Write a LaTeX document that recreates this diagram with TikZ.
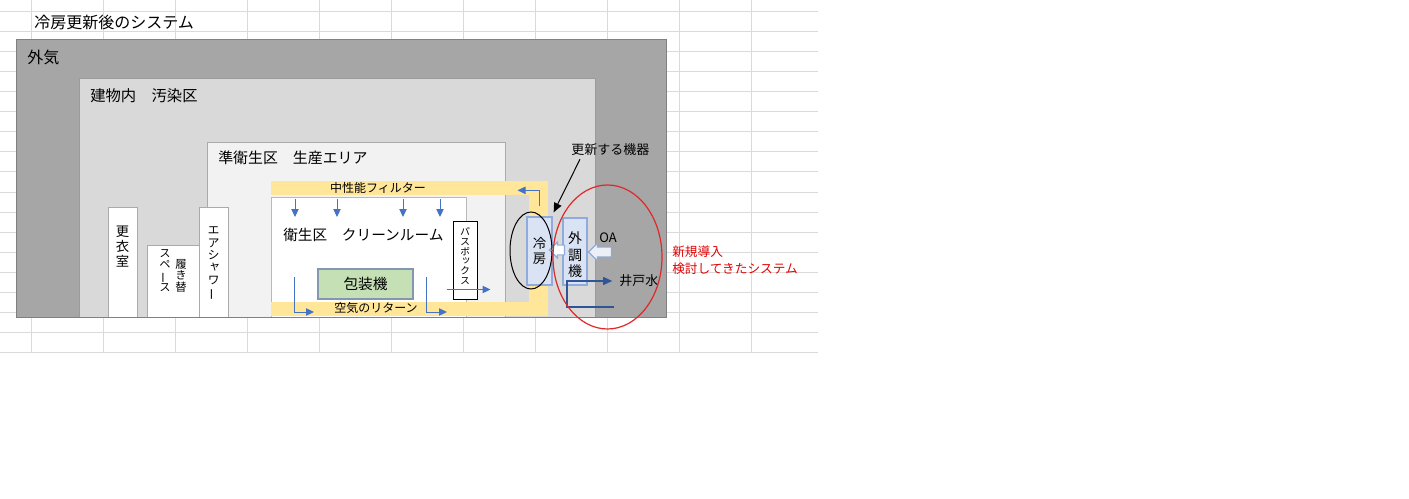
\documentclass[tikz,border=0pt]{standalone}
\usepackage{fontspec}
\setmainfont{Noto Sans CJK JP}
\newfontfamily\tatefont[RawFeature=+vert]{Noto Sans CJK JP}
\usetikzlibrary{arrows.meta,shapes.arrows,calc}

\definecolor{gridgray}{RGB}{218,218,218}
\definecolor{outergray}{RGB}{166,166,166}
\definecolor{outerline}{RGB}{128,128,128}
\definecolor{bldgray}{RGB}{217,217,217}
\definecolor{bldline}{RGB}{155,155,155}
\definecolor{semigray}{RGB}{242,242,242}
\definecolor{semiline}{RGB}{170,170,170}
\definecolor{roomline}{RGB}{185,185,185}
\definecolor{ductyellow}{RGB}{255,230,153}
\definecolor{flowblue}{RGB}{68,114,196}
\definecolor{pipeblue}{RGB}{47,85,151}
\definecolor{unitfill}{RGB}{218,227,243}
\definecolor{unitline}{RGB}{143,170,220}
\definecolor{machgreen}{RGB}{197,224,180}
\definecolor{machline}{RGB}{132,151,176}
\definecolor{notered}{RGB}{228,0,0}
\definecolor{ringred}{RGB}{225,40,40}

% long vowel mark standing upright in vertical text
\newcommand{\tatebou}{\rotatebox[origin=c]{90}{\rmfamily ー}}

\tikzset{
  zone/.style={line width=0.75pt},
  lbl/.style={anchor=west, inner sep=0pt},
  sidebox/.style={draw=semiline, fill=white, line width=0.75pt, inner sep=0pt},
  unitbox/.style={draw=unitline, fill=unitfill, line width=1pt, inner sep=0pt},
  tate/.style={align=center, inner sep=0pt},
  flow/.style={draw=flowblue, line width=0.75pt, -{Triangle[length=6pt,width=5.5pt]}},
  pipe/.style={draw=pipeblue, line width=1.1pt, -{Triangle[length=7pt,width=6pt]}},
  blockarrow/.style={single arrow, draw=unitline, line width=0.9pt, anchor=tip,
    shape border rotate=180, inner sep=3.2pt},
}

\begin{document}
\begin{tikzpicture}[x=0.75pt,y=0.75pt,yscale=-1,xscale=1]
    \useasboundingbox (0,0) rectangle (1409,499);
    \fill[white] (0,0) rectangle (1409,499);
    % sheet grid
    \foreach \gy in {12,32,...,352} \draw[gridgray, line width=0.75pt] (0,\gy) -- (818,\gy);
    \foreach \gx in {31,103,...,751} \draw[gridgray, line width=0.75pt] (\gx,0) -- (\gx,352);
    \node[lbl, font=\fontsize{12}{14}\selectfont] (title) at (34,22) {冷房更新後のシステム};

    % zones
    \draw[zone, draw=outerline, fill=outergray] (16,40) rectangle (666,317);
    \draw[zone, draw=bldline, fill=bldgray] (79,79) rectangle (595,317);
    \draw[zone, draw=semiline, fill=semigray] (207,143) rectangle (505,317);
    \draw[zone, draw=roomline, fill=white] (271,197) rectangle (466,317);
    \node[lbl, font=\fontsize{12}{14}\selectfont] (gaiki) at (27,57) {外気};
    \node[lbl, font=\fontsize{11.5}{14}\selectfont] (tatemono) at (90,96) {建物内　汚染区};
    \node[lbl, font=\fontsize{11.2}{14}\selectfont] (junei) at (218,158) {準衛生区　生産エリア};
    \node[lbl, font=\fontsize{11}{14}\selectfont] (eisei) at (283,235) {衛生区　クリーンルーム};

    % duct
    \fill[ductyellow] (271,181) rectangle (548,195);
    \fill[ductyellow] (529,181) rectangle (548,316);
    \fill[ductyellow] (271,302) rectangle (548,316);
    \node[font=\fontsize{9}{11}\selectfont, inner sep=0pt] (filter) at (378,188) {中性能フィルター};
    \node[font=\fontsize{9}{11}\selectfont, inner sep=0pt] (return) at (376,308) {空気のリターン};

    % rooms on the left
    \node[sidebox, minimum width=21.75pt, minimum height=82.5pt] (koui) at (122.5,262) {};
    \node[sidebox, minimum width=40.5pt, minimum height=54pt] (hakikae) at (174,281) {};
    \node[sidebox, minimum width=21.75pt, minimum height=82.5pt] (shower) at (213.5,262) {};
    \node[tate, font=\tatefont\fontsize{10}{11.25}\selectfont] (koui text) at (122.5,246.5) {更\\衣\\室};
    \node[tate, font=\tatefont\fontsize{8.5}{8.6}\selectfont] (hakikae text) at (181,275.5) {履\\き\\替};
    \node[tate, font=\tatefont\fontsize{8.5}{8.5}\selectfont] (space text) at (165,270.5) {ス\\ペ\\\tatebou\\ス};
    \node[tate, font=\tatefont\fontsize{9}{9.3}\selectfont] (shower text) at (213.5,263.5) {エ\\ア\\シ\\ャ\\ワ\\\tatebou};

    % clean room
    \node[draw=machline, fill=machgreen, line width=0.9pt, minimum width=71.25pt, minimum height=22.5pt,
      font=\fontsize{11}{13}\selectfont] (machine) at (365.5,284) {包装機};
    \node[draw=black, fill=white, line width=0.75pt, minimum width=18pt, minimum height=58.5pt] (passbox) at (465,260) {};
    \node[tate, font=\tatefont\fontsize{7.5}{7.3}\selectfont] (passbox text) at (465,256) {パ\\ス\\ボ\\ッ\\ク\\ス};
    \foreach \fx in {295,337,403,440} \draw[flow] (\fx,199) -- (\fx,217);
    \draw[flow] (294,277) |- (314,312);
    \draw[flow] (426,277) |- (447,312);
    \draw[flow] ($(passbox.south west)+(-6,-10)$) -- ($(passbox.south east)+(13,-10)$);

    % units
    \node[unitbox, minimum width=18.75pt, minimum height=51pt] (reibo) at (539.5,251) {};
    \node[tate, font=\tatefont\fontsize{10}{11.25}\selectfont] (reibo text) at (reibo) {冷\\房};
    \node[unitbox, minimum width=18pt, minimum height=50.25pt] (gaichou) at (575,251.5) {};
    \node[tate, font=\tatefont\fontsize{10.5}{12.4}\selectfont] (gaichou text) at (575,255) {外\\調\\機};
    \draw[flow] ($(reibo.north)+(0,-10)$) |- ++(-22,-16);
    \node[blockarrow, fill=white, minimum height=11.25pt, minimum width=10.5pt,
      single arrow head extend=2.3pt] (to reibo) at ($(reibo.east)+(-4,-1)$) {};
    \node[blockarrow, fill={rgb,255:red,236;green,239;blue,245}, minimum height=17.25pt, minimum width=12.75pt,
      single arrow head extend=3pt] (oa arrow) at ($(gaichou.east)+(0,0.5)$) {};
    \node[lbl, font=\fontsize{9.75}{12}\selectfont] (oa) at (599,238) {OA};
    \node[lbl, font=\fontsize{9.75}{12}\selectfont] (ido) at (619,281) {井戸水};
    \coordinate (pipe in) at (614,307);
    \draw[pipe, shorten >=5pt] (pipe in) -- (567,307) |- (ido.west);

    % remarks
    \draw[outerline, line width=0.75pt] (16,317) -- (666,317);
    \draw[black, line width=0.75pt] (531,250.5) ellipse [x radius=21, y radius=38.5];
    \draw[ringred, line width=0.9pt] (607.5,257) ellipse [x radius=54.5, y radius=72];
    \node[lbl, font=\fontsize{9.75}{12}\selectfont] (koshin) at (571,150) {更新する機器};
    \draw[black, line width=0.75pt, -{Triangle[length=7pt,width=6pt]}] ($(koshin.south west)+(9,3)$) -- ($(reibo.north east)+(1,-4)$);
    \node[lbl, align=left, text=notered, font=\fontsize{9.5}{12.75}\selectfont] (shinki) at (672,260.5) {新規導入\\検討してきたシステム};
\end{tikzpicture}
\end{document}
